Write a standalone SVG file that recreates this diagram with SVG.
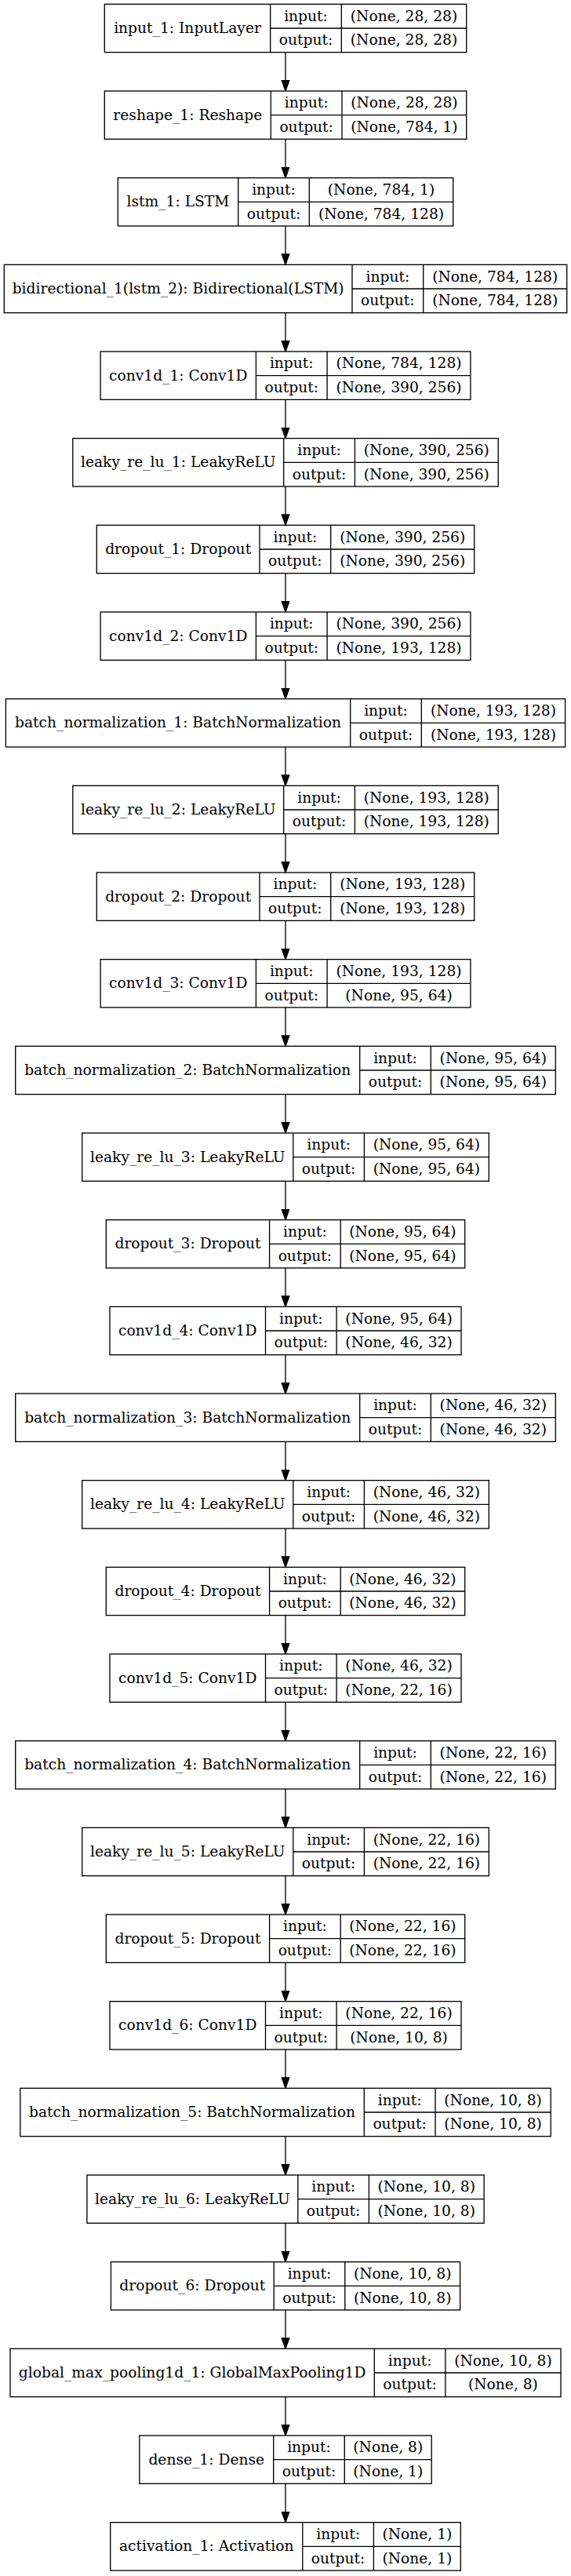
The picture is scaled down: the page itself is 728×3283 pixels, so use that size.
<svg xmlns="http://www.w3.org/2000/svg" width="728" height="3283" viewBox="0 0 728 3283">
<defs>
<style>
.node rect{fill:#fff;stroke:#000;stroke-width:1.33}
.node path{fill:none;stroke:#000;stroke-width:1.33}
.node text{font-family:"DejaVu Serif","Liberation Serif",serif;font-size:18.67px;fill:#000;text-anchor:middle}
.edges line{stroke:#000;stroke-width:1.33}
</style>
<marker id="arrow" markerUnits="userSpaceOnUse" markerWidth="16" markerHeight="12" refX="14" refY="6" orient="auto" viewBox="0 0 16 12">
<path d="M0.7,1.3 L14,6 L0.7,10.7 z" fill="#000" stroke="#000" stroke-width="1.33"/>
</marker>
</defs>
<rect x="0" y="0" width="728" height="3283" fill="#fff"/>
<g id="edges" class="edges">
<line x1="364" y1="66.67" x2="364" y2="116" marker-end="url(#arrow)"/>
<line x1="364" y1="177.33" x2="364" y2="226.67" marker-end="url(#arrow)"/>
<line x1="364" y1="288" x2="364" y2="337.33" marker-end="url(#arrow)"/>
<line x1="364" y1="398.67" x2="364" y2="448" marker-end="url(#arrow)"/>
<line x1="364" y1="509.33" x2="364" y2="558.67" marker-end="url(#arrow)"/>
<line x1="364" y1="620" x2="364" y2="669.33" marker-end="url(#arrow)"/>
<line x1="364" y1="730.67" x2="364" y2="780" marker-end="url(#arrow)"/>
<line x1="364" y1="841.33" x2="364" y2="890.67" marker-end="url(#arrow)"/>
<line x1="364" y1="952" x2="364" y2="1001.33" marker-end="url(#arrow)"/>
<line x1="364" y1="1062.67" x2="364" y2="1112" marker-end="url(#arrow)"/>
<line x1="364" y1="1173.33" x2="364" y2="1222.67" marker-end="url(#arrow)"/>
<line x1="364" y1="1284" x2="364" y2="1333.33" marker-end="url(#arrow)"/>
<line x1="364" y1="1394.67" x2="364" y2="1444" marker-end="url(#arrow)"/>
<line x1="364" y1="1505.33" x2="364" y2="1554.67" marker-end="url(#arrow)"/>
<line x1="364" y1="1616" x2="364" y2="1665.33" marker-end="url(#arrow)"/>
<line x1="364" y1="1726.67" x2="364" y2="1776" marker-end="url(#arrow)"/>
<line x1="364" y1="1837.33" x2="364" y2="1886.67" marker-end="url(#arrow)"/>
<line x1="364" y1="1948" x2="364" y2="1997.33" marker-end="url(#arrow)"/>
<line x1="364" y1="2058.67" x2="364" y2="2108" marker-end="url(#arrow)"/>
<line x1="364" y1="2169.33" x2="364" y2="2218.67" marker-end="url(#arrow)"/>
<line x1="364" y1="2280" x2="364" y2="2329.33" marker-end="url(#arrow)"/>
<line x1="364" y1="2390.67" x2="364" y2="2440" marker-end="url(#arrow)"/>
<line x1="364" y1="2501.33" x2="364" y2="2550.67" marker-end="url(#arrow)"/>
<line x1="364" y1="2612" x2="364" y2="2661.33" marker-end="url(#arrow)"/>
<line x1="364" y1="2722.67" x2="364" y2="2772" marker-end="url(#arrow)"/>
<line x1="364" y1="2833.33" x2="364" y2="2882.67" marker-end="url(#arrow)"/>
<line x1="364" y1="2944" x2="364" y2="2993.33" marker-end="url(#arrow)"/>
<line x1="364" y1="3054.67" x2="364" y2="3104" marker-end="url(#arrow)"/>
<line x1="364" y1="3165.33" x2="364" y2="3214.67" marker-end="url(#arrow)"/>
</g>

<g id="input_1" class="node" transform="translate(0,5.33)">
<rect x="133.3" y="0" width="461.4" height="61.33"/>
<path d="M344.7,0V61.33M435.3,0V61.33M344.7,30.67H594.7"/>
<text x="239" y="36.5">input_1: InputLayer</text>
<text x="390" y="21.2">input:</text><text x="390" y="51.9">output:</text>
<text x="515" y="21.2">(None, 28, 28)</text><text x="515" y="51.9">(None, 28, 28)</text>
</g>

<g id="reshape_1" class="node" transform="translate(0,116)">
<rect x="133.3" y="0" width="461.4" height="61.33"/>
<path d="M345.3,0V61.33M436,0V61.33M345.3,30.67H594.7"/>
<text x="239.3" y="36.5">reshape_1: Reshape</text>
<text x="390.65" y="21.2">input:</text><text x="390.65" y="51.9">output:</text>
<text x="515.35" y="21.2">(None, 28, 28)</text><text x="515.35" y="51.9">(None, 784, 1)</text>
</g>

<g id="lstm_1" class="node" transform="translate(0,226.67)">
<rect x="150.3" y="0" width="427.4" height="61.33"/>
<path d="M303.7,0V61.33M394.3,0V61.33M303.7,30.67H577.7"/>
<text x="227" y="36.5">lstm_1: LSTM</text>
<text x="349" y="21.2">input:</text><text x="349" y="51.9">output:</text>
<text x="486" y="21.2">(None, 784, 1)</text><text x="486" y="51.9">(None, 784, 128)</text>
</g>

<g id="bidirectional_1" class="node" transform="translate(0,337.33)">
<rect x="5.3" y="0" width="717.4" height="61.33"/>
<path d="M449,0V61.33M539.7,0V61.33M449,30.67H722.7"/>
<text x="227.15" y="36.5">bidirectional_1(lstm_2): Bidirectional(LSTM)</text>
<text x="494.35" y="21.2">input:</text><text x="494.35" y="51.9">output:</text>
<text x="631.2" y="21.2">(None, 784, 128)</text><text x="631.2" y="51.9">(None, 784, 128)</text>
</g>

<g id="conv1d_1" class="node" transform="translate(0,448)">
<rect x="128.1" y="0" width="471.8" height="61.33"/>
<path d="M326.4,0V61.33M417.1,0V61.33M326.4,30.67H599.9"/>
<text x="227.25" y="36.5">conv1d_1: Conv1D</text>
<text x="371.75" y="21.2">input:</text><text x="371.75" y="51.9">output:</text>
<text x="508.5" y="21.2">(None, 784, 128)</text><text x="508.5" y="51.9">(None, 390, 256)</text>
</g>

<g id="leaky_re_lu_1" class="node" transform="translate(0,558.67)">
<rect x="92.8" y="0" width="542.4" height="61.33"/>
<path d="M361.7,0V61.33M452.4,0V61.33M361.7,30.67H635.2"/>
<text x="227.25" y="36.5">leaky_re_lu_1: LeakyReLU</text>
<text x="407.05" y="21.2">input:</text><text x="407.05" y="51.9">output:</text>
<text x="543.8" y="21.2">(None, 390, 256)</text><text x="543.8" y="51.9">(None, 390, 256)</text>
</g>

<g id="dropout_1" class="node" transform="translate(0,669.33)">
<rect x="123.3" y="0" width="481.4" height="61.33"/>
<path d="M331,0V61.33M421.7,0V61.33M331,30.67H604.7"/>
<text x="227.15" y="36.5">dropout_1: Dropout</text>
<text x="376.35" y="21.2">input:</text><text x="376.35" y="51.9">output:</text>
<text x="513.2" y="21.2">(None, 390, 256)</text><text x="513.2" y="51.9">(None, 390, 256)</text>
</g>

<g id="conv1d_2" class="node" transform="translate(0,780)">
<rect x="128.1" y="0" width="471.8" height="61.33"/>
<path d="M326.4,0V61.33M417.1,0V61.33M326.4,30.67H599.9"/>
<text x="227.25" y="36.5">conv1d_2: Conv1D</text>
<text x="371.75" y="21.2">input:</text><text x="371.75" y="51.9">output:</text>
<text x="508.5" y="21.2">(None, 390, 256)</text><text x="508.5" y="51.9">(None, 193, 128)</text>
</g>

<g id="batch_normalization_1" class="node" transform="translate(0,890.67)">
<rect x="7.4" y="0" width="713.2" height="61.33"/>
<path d="M446.7,0V61.33M537.3,0V61.33M446.7,30.67H720.6"/>
<text x="227.05" y="36.5">batch_normalization_1: BatchNormalization</text>
<text x="492" y="21.2">input:</text><text x="492" y="51.9">output:</text>
<text x="628.95" y="21.2">(None, 193, 128)</text><text x="628.95" y="51.9">(None, 193, 128)</text>
</g>

<g id="leaky_re_lu_2" class="node" transform="translate(0,1001.33)">
<rect x="92.8" y="0" width="542.4" height="61.33"/>
<path d="M361.7,0V61.33M452.4,0V61.33M361.7,30.67H635.2"/>
<text x="227.25" y="36.5">leaky_re_lu_2: LeakyReLU</text>
<text x="407.05" y="21.2">input:</text><text x="407.05" y="51.9">output:</text>
<text x="543.8" y="21.2">(None, 193, 128)</text><text x="543.8" y="51.9">(None, 193, 128)</text>
</g>

<g id="dropout_2" class="node" transform="translate(0,1112)">
<rect x="123.3" y="0" width="481.4" height="61.33"/>
<path d="M331,0V61.33M421.7,0V61.33M331,30.67H604.7"/>
<text x="227.15" y="36.5">dropout_2: Dropout</text>
<text x="376.35" y="21.2">input:</text><text x="376.35" y="51.9">output:</text>
<text x="513.2" y="21.2">(None, 193, 128)</text><text x="513.2" y="51.9">(None, 193, 128)</text>
</g>

<g id="conv1d_3" class="node" transform="translate(0,1222.67)">
<rect x="128.1" y="0" width="471.8" height="61.33"/>
<path d="M326.4,0V61.33M417.1,0V61.33M326.4,30.67H599.9"/>
<text x="227.25" y="36.5">conv1d_3: Conv1D</text>
<text x="371.75" y="21.2">input:</text><text x="371.75" y="51.9">output:</text>
<text x="508.5" y="21.2">(None, 193, 128)</text><text x="508.5" y="51.9">(None, 95, 64)</text>
</g>

<g id="batch_normalization_2" class="node" transform="translate(0,1333.33)">
<rect x="19.7" y="0" width="688.6" height="61.33"/>
<path d="M458.7,0V61.33M549.3,0V61.33M458.7,30.67H708.3"/>
<text x="239.2" y="36.5">batch_normalization_2: BatchNormalization</text>
<text x="504" y="21.2">input:</text><text x="504" y="51.9">output:</text>
<text x="628.8" y="21.2">(None, 95, 64)</text><text x="628.8" y="51.9">(None, 95, 64)</text>
</g>

<g id="leaky_re_lu_3" class="node" transform="translate(0,1444)">
<rect x="104.7" y="0" width="518.6" height="61.33"/>
<path d="M373.8,0V61.33M464.4,0V61.33M373.8,30.67H623.3"/>
<text x="239.25" y="36.5">leaky_re_lu_3: LeakyReLU</text>
<text x="419.1" y="21.2">input:</text><text x="419.1" y="51.9">output:</text>
<text x="543.85" y="21.2">(None, 95, 64)</text><text x="543.85" y="51.9">(None, 95, 64)</text>
</g>

<g id="dropout_3" class="node" transform="translate(0,1554.67)">
<rect x="135.3" y="0" width="457.4" height="61.33"/>
<path d="M343.6,0V61.33M434.2,0V61.33M343.6,30.67H592.7"/>
<text x="239.45" y="36.5">dropout_3: Dropout</text>
<text x="388.9" y="21.2">input:</text><text x="388.9" y="51.9">output:</text>
<text x="513.45" y="21.2">(None, 95, 64)</text><text x="513.45" y="51.9">(None, 95, 64)</text>
</g>

<g id="conv1d_4" class="node" transform="translate(0,1665.33)">
<rect x="140" y="0" width="448" height="61.33"/>
<path d="M338.5,0V61.33M429.1,0V61.33M338.5,30.67H588"/>
<text x="239.25" y="36.5">conv1d_4: Conv1D</text>
<text x="383.8" y="21.2">input:</text><text x="383.8" y="51.9">output:</text>
<text x="508.55" y="21.2">(None, 95, 64)</text><text x="508.55" y="51.9">(None, 46, 32)</text>
</g>

<g id="batch_normalization_3" class="node" transform="translate(0,1776)">
<rect x="19.7" y="0" width="688.6" height="61.33"/>
<path d="M458.7,0V61.33M549.3,0V61.33M458.7,30.67H708.3"/>
<text x="239.2" y="36.5">batch_normalization_3: BatchNormalization</text>
<text x="504" y="21.2">input:</text><text x="504" y="51.9">output:</text>
<text x="628.8" y="21.2">(None, 46, 32)</text><text x="628.8" y="51.9">(None, 46, 32)</text>
</g>

<g id="leaky_re_lu_4" class="node" transform="translate(0,1886.67)">
<rect x="104.7" y="0" width="518.6" height="61.33"/>
<path d="M373.8,0V61.33M464.4,0V61.33M373.8,30.67H623.3"/>
<text x="239.25" y="36.5">leaky_re_lu_4: LeakyReLU</text>
<text x="419.1" y="21.2">input:</text><text x="419.1" y="51.9">output:</text>
<text x="543.85" y="21.2">(None, 46, 32)</text><text x="543.85" y="51.9">(None, 46, 32)</text>
</g>

<g id="dropout_4" class="node" transform="translate(0,1997.33)">
<rect x="135.3" y="0" width="457.4" height="61.33"/>
<path d="M343.6,0V61.33M434.2,0V61.33M343.6,30.67H592.7"/>
<text x="239.45" y="36.5">dropout_4: Dropout</text>
<text x="388.9" y="21.2">input:</text><text x="388.9" y="51.9">output:</text>
<text x="513.45" y="21.2">(None, 46, 32)</text><text x="513.45" y="51.9">(None, 46, 32)</text>
</g>

<g id="conv1d_5" class="node" transform="translate(0,2108)">
<rect x="140" y="0" width="448" height="61.33"/>
<path d="M338.5,0V61.33M429.1,0V61.33M338.5,30.67H588"/>
<text x="239.25" y="36.5">conv1d_5: Conv1D</text>
<text x="383.8" y="21.2">input:</text><text x="383.8" y="51.9">output:</text>
<text x="508.55" y="21.2">(None, 46, 32)</text><text x="508.55" y="51.9">(None, 22, 16)</text>
</g>

<g id="batch_normalization_4" class="node" transform="translate(0,2218.67)">
<rect x="19.7" y="0" width="688.6" height="61.33"/>
<path d="M458.7,0V61.33M549.3,0V61.33M458.7,30.67H708.3"/>
<text x="239.2" y="36.5">batch_normalization_4: BatchNormalization</text>
<text x="504" y="21.2">input:</text><text x="504" y="51.9">output:</text>
<text x="628.8" y="21.2">(None, 22, 16)</text><text x="628.8" y="51.9">(None, 22, 16)</text>
</g>

<g id="leaky_re_lu_5" class="node" transform="translate(0,2329.33)">
<rect x="104.7" y="0" width="518.6" height="61.33"/>
<path d="M373.8,0V61.33M464.4,0V61.33M373.8,30.67H623.3"/>
<text x="239.25" y="36.5">leaky_re_lu_5: LeakyReLU</text>
<text x="419.1" y="21.2">input:</text><text x="419.1" y="51.9">output:</text>
<text x="543.85" y="21.2">(None, 22, 16)</text><text x="543.85" y="51.9">(None, 22, 16)</text>
</g>

<g id="dropout_5" class="node" transform="translate(0,2440)">
<rect x="135.3" y="0" width="457.4" height="61.33"/>
<path d="M343.6,0V61.33M434.2,0V61.33M343.6,30.67H592.7"/>
<text x="239.45" y="36.5">dropout_5: Dropout</text>
<text x="388.9" y="21.2">input:</text><text x="388.9" y="51.9">output:</text>
<text x="513.45" y="21.2">(None, 22, 16)</text><text x="513.45" y="51.9">(None, 22, 16)</text>
</g>

<g id="conv1d_6" class="node" transform="translate(0,2550.67)">
<rect x="140" y="0" width="448" height="61.33"/>
<path d="M338.5,0V61.33M429.1,0V61.33M338.5,30.67H588"/>
<text x="239.25" y="36.5">conv1d_6: Conv1D</text>
<text x="383.8" y="21.2">input:</text><text x="383.8" y="51.9">output:</text>
<text x="508.55" y="21.2">(None, 22, 16)</text><text x="508.55" y="51.9">(None, 10, 8)</text>
</g>

<g id="batch_normalization_5" class="node" transform="translate(0,2661.33)">
<rect x="25.8" y="0" width="676.4" height="61.33"/>
<path d="M464.3,0V61.33M555,0V61.33M464.3,30.67H702.2"/>
<text x="245.05" y="36.5">batch_normalization_5: BatchNormalization</text>
<text x="509.65" y="21.2">input:</text><text x="509.65" y="51.9">output:</text>
<text x="628.6" y="21.2">(None, 10, 8)</text><text x="628.6" y="51.9">(None, 10, 8)</text>
</g>

<g id="leaky_re_lu_6" class="node" transform="translate(0,2772)">
<rect x="110.9" y="0" width="506.2" height="61.33"/>
<path d="M379.8,0V61.33M470.4,0V61.33M379.8,30.67H617.1"/>
<text x="245.35" y="36.5">leaky_re_lu_6: LeakyReLU</text>
<text x="425.1" y="21.2">input:</text><text x="425.1" y="51.9">output:</text>
<text x="543.75" y="21.2">(None, 10, 8)</text><text x="543.75" y="51.9">(None, 10, 8)</text>
</g>

<g id="dropout_6" class="node" transform="translate(0,2882.67)">
<rect x="141.4" y="0" width="445.2" height="61.33"/>
<path d="M349.2,0V61.33M439.8,0V61.33M349.2,30.67H586.6"/>
<text x="245.3" y="36.5">dropout_6: Dropout</text>
<text x="394.5" y="21.2">input:</text><text x="394.5" y="51.9">output:</text>
<text x="513.2" y="21.2">(None, 10, 8)</text><text x="513.2" y="51.9">(None, 10, 8)</text>
</g>

<g id="global_max_pooling1d_1" class="node" transform="translate(0,2993.33)">
<rect x="13" y="0" width="702" height="61.33"/>
<path d="M477.3,0V61.33M567.9,0V61.33M477.3,30.67H715"/>
<text x="245.15" y="36.5">global_max_pooling1d_1: GlobalMaxPooling1D</text>
<text x="522.6" y="21.2">input:</text><text x="522.6" y="51.9">output:</text>
<text x="641.45" y="21.2">(None, 10, 8)</text><text x="641.45" y="51.9">(None, 8)</text>
</g>

<g id="dense_1" class="node" transform="translate(0,3104)">
<rect x="177.8" y="0" width="372.4" height="61.33"/>
<path d="M348.7,0V61.33M439.3,0V61.33M348.7,30.67H550.2"/>
<text x="263.25" y="36.5">dense_1: Dense</text>
<text x="394" y="21.2">input:</text><text x="394" y="51.9">output:</text>
<text x="494.75" y="21.2">(None, 8)</text><text x="494.75" y="51.9">(None, 1)</text>
</g>

<g id="activation_1" class="node" transform="translate(0,3214.67)">
<rect x="140.7" y="0" width="446.6" height="61.33"/>
<path d="M385.8,0V61.33M476.4,0V61.33M385.8,30.67H587.3"/>
<text x="263.25" y="36.5">activation_1: Activation</text>
<text x="431.1" y="21.2">input:</text><text x="431.1" y="51.9">output:</text>
<text x="531.85" y="21.2">(None, 1)</text><text x="531.85" y="51.9">(None, 1)</text>
</g>
</svg>
